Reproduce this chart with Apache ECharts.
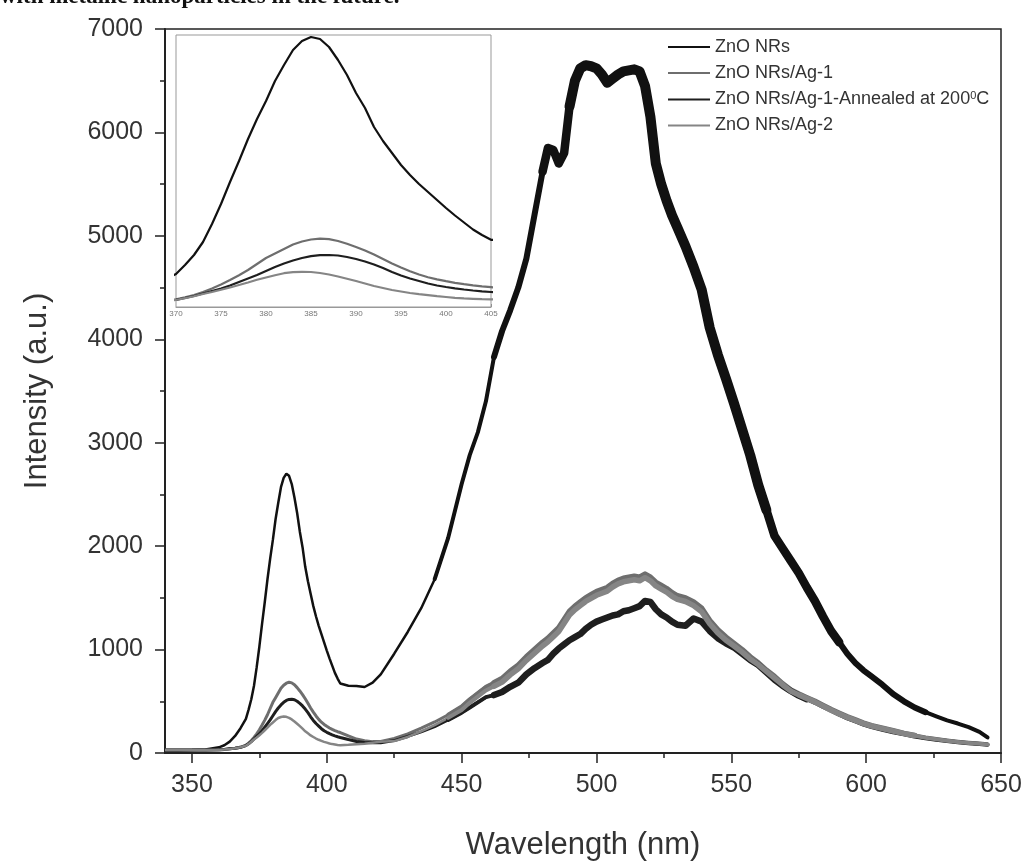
<!DOCTYPE html>
<html><head><meta charset="utf-8">
<script src="https://cdn.jsdelivr.net/npm/echarts@6/dist/echarts.min.js"></script>
<style>html,body{margin:0;padding:0;background:#fff;} #c{width:1027px;height:866px;}</style>
</head><body><div id="c"></div>
<script>
// ---- DATA ----
const wavelength = [
  340,345,350,355,360,
  362,364,366,368,
  370,371,372,373,374,375,376,377,378,379,380,381,382,383,384,385,386,387,388,389,390,391,392,393,394,395,396,397,398,399,400,401,402,403,404,405,
  408,411,414,417,420,
  425,430,435,440,445,450,
  453,456,459,462,465,468,471,474,477,480,
  482,484,486,488,490,492,494,496,498,500,502,504,506,508,510,512,514,516,518,520,522,524,526,528,530,
  533,536,539,542,545,548,551,554,557,560,
  563,566,569,572,575,578,581,584,587,590,593,596,599,602,
  606,610,614,618,622,626,630,634,638,642,
  645
];
const znoNRs = [
  25,25,28,35,55,
  75,110,165,240,
  330,420,520,650,830,1030,1250,1460,1680,1880, 2060,2260,2420,2570,2660,2700,2680,2600,2470,2320, 2140,1990,1800,1660,1540,1420,1320,1230,1150,1070, 990,915,845,775,720,672,
  650,648,638,680,760,
  960,1170,1400,1680,2080,2600,
  2880,3100,3400,3830,4080,4280,4500,4780,5200,5620,
  5850,5830,5700,5800,6250,6500,6620,6650,6640,6620, 6560,6480,6520,6560,6590,6600,6610,6590,6450,6150, 5700,5500,5340,5200,5080,
  4900,4700,4480,4110,3850,3620,3380,3130,2880,2590,
  2350,2100,1980,1860,1740,1600,1470,1320,1180,1070,960,870,800,740,
  660,570,500,440,395,355,315,285,250,205,
  150
];
const agOne = [
  30,30,30,30,32,
  35,40,45,55,
  76,96,120,150,185,225,270,318,370,430, 490,535,580,625,655,675,684,678,660,632, 600,565,525,480,435,395,358,325,298,276, 258,242,228,216,206,198,
  165,135,118,110,112,
  140,185,240,300,370,450,
  520,580,640,680,720,790,850,930,1000,1070,
  1110,1160,1210,1290,1370,1420,1460,1500,1530,1560, 1580,1600,1640,1670,1690,1700,1710,1700,1730,1700, 1650,1620,1590,1550,1520,
  1500,1460,1400,1280,1190,1120,1060,1000,930,870,
  800,740,670,610,570,535,500,460,420,385,350,320,290,265,
  240,215,190,170,150,135,122,110,100,92,
  85
];
const agAnnealed = [
  30,30,30,30,32,
  35,40,45,55,
  72,90,110,135,160,185,215,250,285,320, 360,400,435,465,490,508,518,520,515,500, 480,455,425,390,350,315,285,260,235,215, 200,187,175,165,157,150,
  130,112,102,98,100,
  120,160,205,255,320,390,
  440,490,540,560,590,640,680,760,820,870,
  900,960,1010,1050,1090,1120,1150,1200,1240,1270, 1290,1310,1330,1340,1370,1380,1400,1420,1470,1460, 1390,1340,1310,1270,1240,
  1230,1300,1270,1180,1110,1060,1020,960,900,850,
  780,710,650,600,555,520,485,445,410,370,335,305,275,250,
  225,200,180,160,142,128,115,104,95,87,
  80
];
const agTwo = [
  28,28,28,28,30,
  33,38,45,55,
  70,88,108,130,150,172,195,220,245,272, 295,318,338,348,352,350,340,325,305,283, 260,235,210,190,170,155,140,128,118,108, 100,92,86,82,78,76,
  80,85,90,100,108,
  115,155,210,270,340,415,
  485,545,605,645,685,755,815,895,965,1035,
  1075,1125,1175,1255,1335,1385,1425,1465,1495,1525, 1545,1565,1605,1635,1655,1665,1675,1665,1695,1665, 1615,1585,1555,1515,1485,
  1465,1425,1365,1250,1160,1090,1035,975,910,855,
  790,725,660,600,562,528,492,453,413,378,344,314,284,260,
  236,211,187,167,147,132,119,107,97,89,
  82
];
const seriesNames = ['ZnO NRs', 'ZnO NRs/Ag-1', 'ZnO NRs/Ag-1-Annealed at 200°C', 'ZnO NRs/Ag-2'];
const xMajorTicks = [350, 400, 450, 500, 550, 600, 650];
const xMinorTicks = [375, 425, 475, 525, 575, 625];

// ---- CHART ----
const values = [znoNRs, agOne, agAnnealed, agTwo];
const colors = ['#111111', '#6e6e6e', '#1e1e1e', '#858585'];
const mainWidths = [2.5, 3, 3, 2.5];
// stroke-width styling for the noisy visible band (same data; [from, to, width])
const bandStages = [
  [[440, 645, 4], [460, 625, 6], [478, 590, 8.5], [490, 565, 10]],
  [[445, 645, 4], [460, 620, 5.5]],
  [[445, 645, 4], [462, 580, 6.5]],
  [[445, 645, 4], [460, 620, 5.5]]
];
const pairs = v => wavelength.map((w, i) => [w, v[i]]);

const mainSeries = values.map((v, k) => ({
  name: seriesNames[k], type: 'line', xAxisIndex: 0, yAxisIndex: 0,
  data: pairs(v), showSymbol: false, symbol: 'none',
  lineStyle: { color: colors[k], width: mainWidths[k] }, itemStyle: { color: colors[k] },
  z: 3
}));
const bandSeries = [];
values.forEach((v, k) => {
  bandStages[k].forEach(st => {
    bandSeries.push({
      name: seriesNames[k] + ' band', type: 'line', xAxisIndex: 0, yAxisIndex: 0,
      data: pairs(v).filter(p => p[0] >= st[0] && p[0] <= st[1]), showSymbol: false, symbol: 'none',
      lineStyle: { color: colors[k], width: st[2], join: 'round', cap: 'round' },
      itemStyle: { color: colors[k] }, z: 3, silent: true
    });
  });
});
const insetSeries = values.map((v, k) => ({
  name: seriesNames[k], type: 'line', xAxisIndex: 2, yAxisIndex: 1,
  data: pairs(v), showSymbol: false, symbol: 'none', clip: true,
  lineStyle: { color: colors[k], width: 2.2 }, itemStyle: { color: colors[k] },
  z: 4
}));

const font = '"Liberation Sans", Arial, sans-serif';
const chart = echarts.init(document.getElementById('c'), null, { renderer: 'canvas' });
chart.setOption({
  animation: false,
  backgroundColor: '#ffffff',
  textStyle: { fontFamily: font },
  graphic: [{
    type: 'text', left: 0, top: -14, z: 10,
    style: { text: 'with metallic nanoparticles in the future.', font: 'bold 23px "Liberation Serif", serif', fill: '#111' }
  }],
  grid: [
    { left: 165, top: 29, right: 26, bottom: 109, show: true, borderColor: '#222', borderWidth: 1.5, backgroundColor: 'transparent' },
    { left: 176, top: 35, width: 315, height: 272, show: true, borderColor: '#999', borderWidth: 1, backgroundColor: '#fff', z: 3 }
  ],
  legend: {
    orient: 'vertical', left: 663, top: 33, itemWidth: 42, itemHeight: 2, itemGap: 8,
    icon: 'rect', data: seriesNames,
    textStyle: {
      fontFamily: font, fontSize: 18, color: '#333',
      rich: {
        n: { fontFamily: font, fontSize: 18, color: '#333', lineHeight: 19 },
        s: { fontFamily: font, fontSize: 11, color: '#333', verticalAlign: 'top', lineHeight: 19 }
      }
    },
    formatter: name => name.indexOf('200°C') >= 0
      ? '{n|ZnO NRs/Ag-1-Annealed at 200}{s|0}{n|C}'
      : '{n|' + name + '}'
  },
  xAxis: [
    {
      type: 'value', gridIndex: 0, min: 340, max: 650, position: 'bottom',
      axisLine: { show: true, lineStyle: { color: '#222', width: 2 } },
      axisTick: { show: true, customValues: xMajorTicks, length: 10, lineStyle: { color: '#222', width: 1.5 } },
      axisLabel: { customValues: xMajorTicks, fontSize: 25, color: '#333', fontFamily: font, margin: 20 },
      splitLine: { show: false },
      name: 'Wavelength (nm)', nameLocation: 'middle', nameGap: 77,
      nameTextStyle: { fontSize: 31, color: '#333', fontFamily: font }
    },
    {
      type: 'value', gridIndex: 0, min: 340, max: 650, position: 'bottom', offset: 0,
      axisLine: { show: false },
      axisTick: { show: true, customValues: xMinorTicks, length: 5, lineStyle: { color: '#222', width: 1.5 } },
      axisLabel: { show: false }, splitLine: { show: false }
    },
    {
      type: 'value', gridIndex: 1, min: 370, max: 405, interval: 5, position: 'bottom',
      axisLine: { show: true, lineStyle: { color: '#999', width: 1 } },
      axisTick: { show: true, inside: true, length: 3, lineStyle: { color: '#888' } },
      minorTick: { show: true, splitNumber: 2, length: 2, lineStyle: { color: '#888' } },
      axisLabel: { fontSize: 8, color: '#777', margin: 3, fontFamily: font },
      splitLine: { show: false }
    }
  ],
  yAxis: [
    {
      type: 'value', gridIndex: 0, min: 0, max: 7000, interval: 1000,
      axisLine: { show: true, lineStyle: { color: '#222', width: 2 } },
      axisTick: { show: true, length: 10, lineStyle: { color: '#222', width: 1.5 } },
      minorTick: { show: true, splitNumber: 2, length: 5, lineStyle: { color: '#222', width: 1.5 } },
      axisLabel: { fontSize: 25, color: '#333', fontFamily: font, margin: 22, formatter: v => String(v) },
      splitLine: { show: false },
      name: 'Intensity (a.u.)', nameLocation: 'middle', nameGap: 112, nameRotate: 90,
      nameTextStyle: { fontSize: 31, color: '#333', fontFamily: font }
    },
    {
      type: 'value', gridIndex: 1, min: 0, max: 2720,
      axisLine: { show: false }, axisTick: { show: false }, axisLabel: { show: false }, splitLine: { show: false }
    }
  ],
  series: mainSeries.concat(bandSeries, insetSeries)
});
</script>
</body></html>
